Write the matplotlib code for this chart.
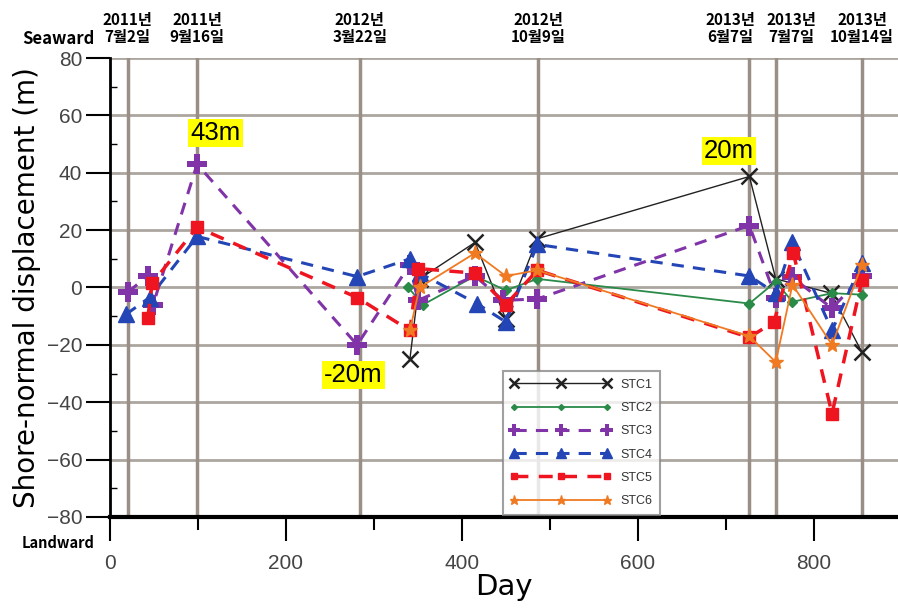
import numpy as np
import matplotlib
matplotlib.use('Agg')
import matplotlib.pyplot as plt
from matplotlib.ticker import MultipleLocator
from matplotlib.lines import Line2D

plt.rcParams['font.family'] = ['Liberation Sans', 'DejaVu Sans']

# survey dates (day index) and their labels
event_day = [20, 99, 284, 487, 727, 757, 855]
label_day = [20, 99, 284, 487, 705, 775, 855]
event_label = ['2011년\n7월2일', '2011년\n9월16일', '2012년\n3월22일', '2012년\n10월9일',
               '2013년\n6월7일', '2013년\n7월7일', '2013년\n10월14일']

stc1_day = [341, 352, 415, 450, 486, 727, 757, 820, 855]
stc1_val = [-25, 3, 15.7, -11, 17, 38.7, 3, -2, -22.6]

stc2_day = [339, 356, 415, 450, 486, 727, 757, 776, 821, 855]
stc2_val = [0, -6, 4, -1, 3, -5.6, 2, -5, -2, -2.5]

stc3_day = [20, 43, 49, 99, 281, 341, 350, 415, 447, 486, 727, 757, 776, 821, 855]
stc3_val = [-1.7, 4, -6, 43, -20, 8, -4.5, 4, -4.5, -4, 21.6, -3.5, 3.5, -7.3, 4]

stc4_day = [18, 45, 99, 281, 341, 352, 417, 450, 486, 727, 757, 776, 821, 855]
stc4_val = [-9.4, -3.5, 17.8, 3.8, 10, 5, -5.6, -12, 15, 4, -2, 15.7, -15, 8.7]

stc5_day = [43, 48, 99, 281, 341, 350, 415, 450, 486, 727, 755, 777, 821, 855]
stc5_val = [-10.5, 1.5, 21, -3.5, -15, 6.6, 5, -6, 6, -17.4, -12, 12, -44, 2.5]

stc6_day = [341, 352, 415, 450, 486, 727, 757, 776, 821, 855]
stc6_val = [-15, 0, 12, 4, 6, -17, -26, 1, -20, 8]

# callouts
note_text = ['43m', '-20m', '20m']
note_day = [120, 277, 704]
note_val = [54, -30.5, 47.5]

fig = plt.figure(figsize=(8.98, 6.11), dpi=100)
ax = fig.add_axes([0.1225, 0.154, 0.8775, 0.751])

ax.set_xlim(0, 896)
ax.set_ylim(-80, 80)

# grid
for v in range(-60, 81, 20):
    ax.axhline(v, color='#aca6a0', lw=2, zorder=0)
for d in event_day:
    ax.axvline(d, color='#998f87', lw=2.5, zorder=0)

series = [
    ('STC1', stc1_day, stc1_val, dict(color='#222222', lw=1.0, ls='-', marker='x', ms=12, mew=1.8)),
    ('STC2', stc2_day, stc2_val, dict(color='#2a8a48', lw=1.3, ls='-', marker='D', ms=5)),
    ('STC3', stc3_day, stc3_val, dict(color='#8034a8', lw=2.2, ls=(0, (4, 3)), marker='P', ms=15, mew=0)),
    ('STC4', stc4_day, stc4_val, dict(color='#2345b5', lw=2.2, ls=(0, (4, 3)), marker='^', ms=11)),
    ('STC5', stc5_day, stc5_val, dict(color='#ee1520', lw=2.5, ls=(0, (4, 3)), marker='s', ms=8)),
    ('STC6', stc6_day, stc6_val, dict(color='#f07a22', lw=1.3, ls='-', marker='*', ms=11)),
]
for name, d, v, st in series:
    ax.plot(d, v, label=name, zorder=3, **st)

for t, d, v in zip(note_text, note_day, note_val):
    ax.text(d, v, t, fontsize=18.5, ha='center', va='center', zorder=5,
            bbox=dict(facecolor='#ffff00', edgecolor='none', pad=1.5))

# axes styling
for s in ['top', 'right']:
    ax.spines[s].set_visible(False)
ax.spines['left'].set_linewidth(2)
ax.spines['bottom'].set_linewidth(3)
ax.yaxis.set_major_locator(MultipleLocator(20))
ax.yaxis.set_minor_locator(MultipleLocator(10))
ax.xaxis.set_major_locator(MultipleLocator(200))
ax.xaxis.set_minor_locator(MultipleLocator(100))
ax.tick_params(axis='y', which='major', direction='out', length=17, width=1.5,
               labelsize=15, labelcolor='#444444', pad=3)
ax.tick_params(axis='y', which='minor', direction='in', length=5, width=1)
ax.tick_params(axis='x', which='major', direction='out', length=17, width=1.5,
               labelsize=15, labelcolor='#444444', pad=10)
ax.tick_params(axis='x', which='minor', direction='out', length=9, width=1.5)

ax.set_xlabel('Day', fontsize=21, labelpad=0, family='DejaVu Sans')
ax.set_ylabel('Shore-normal displacement (m)', fontsize=20, labelpad=4, family='DejaVu Sans')

for d, t in zip(label_day, event_label):
    ax.text(d, 1.065, t, transform=ax.get_xaxis_transform(), ha='center', va='center',
            fontsize=11, fontweight='bold', family=['Noto Sans CJK KR', 'DejaVu Sans'],
            linespacing=1.05, clip_on=False)

fig.text(58 / 898, 1 - 39 / 611, 'Seaward', ha='center', va='center', fontsize=12,
         fontweight='bold', family=['Noto Sans CJK KR', 'DejaVu Sans'])
fig.text(58 / 898, 1 - 543 / 611, 'Landward', ha='center', va='center', fontsize=10.5,
         fontweight='bold', family=['Noto Sans CJK KR', 'DejaVu Sans'])

leg = ax.legend(loc='upper left', bbox_to_anchor=(0.491, 0.331), numpoints=3,
                fontsize=9, frameon=True, fancybox=False, handlelength=8,
                borderpad=0.6, labelspacing=0.9, markerscale=0.6)
leg.get_frame().set_edgecolor('#888888')
leg.get_frame().set_linewidth(1.5)
for t in leg.get_texts():
    t.set_color('#333333')

fig.savefig('out.png', dpi=100)
